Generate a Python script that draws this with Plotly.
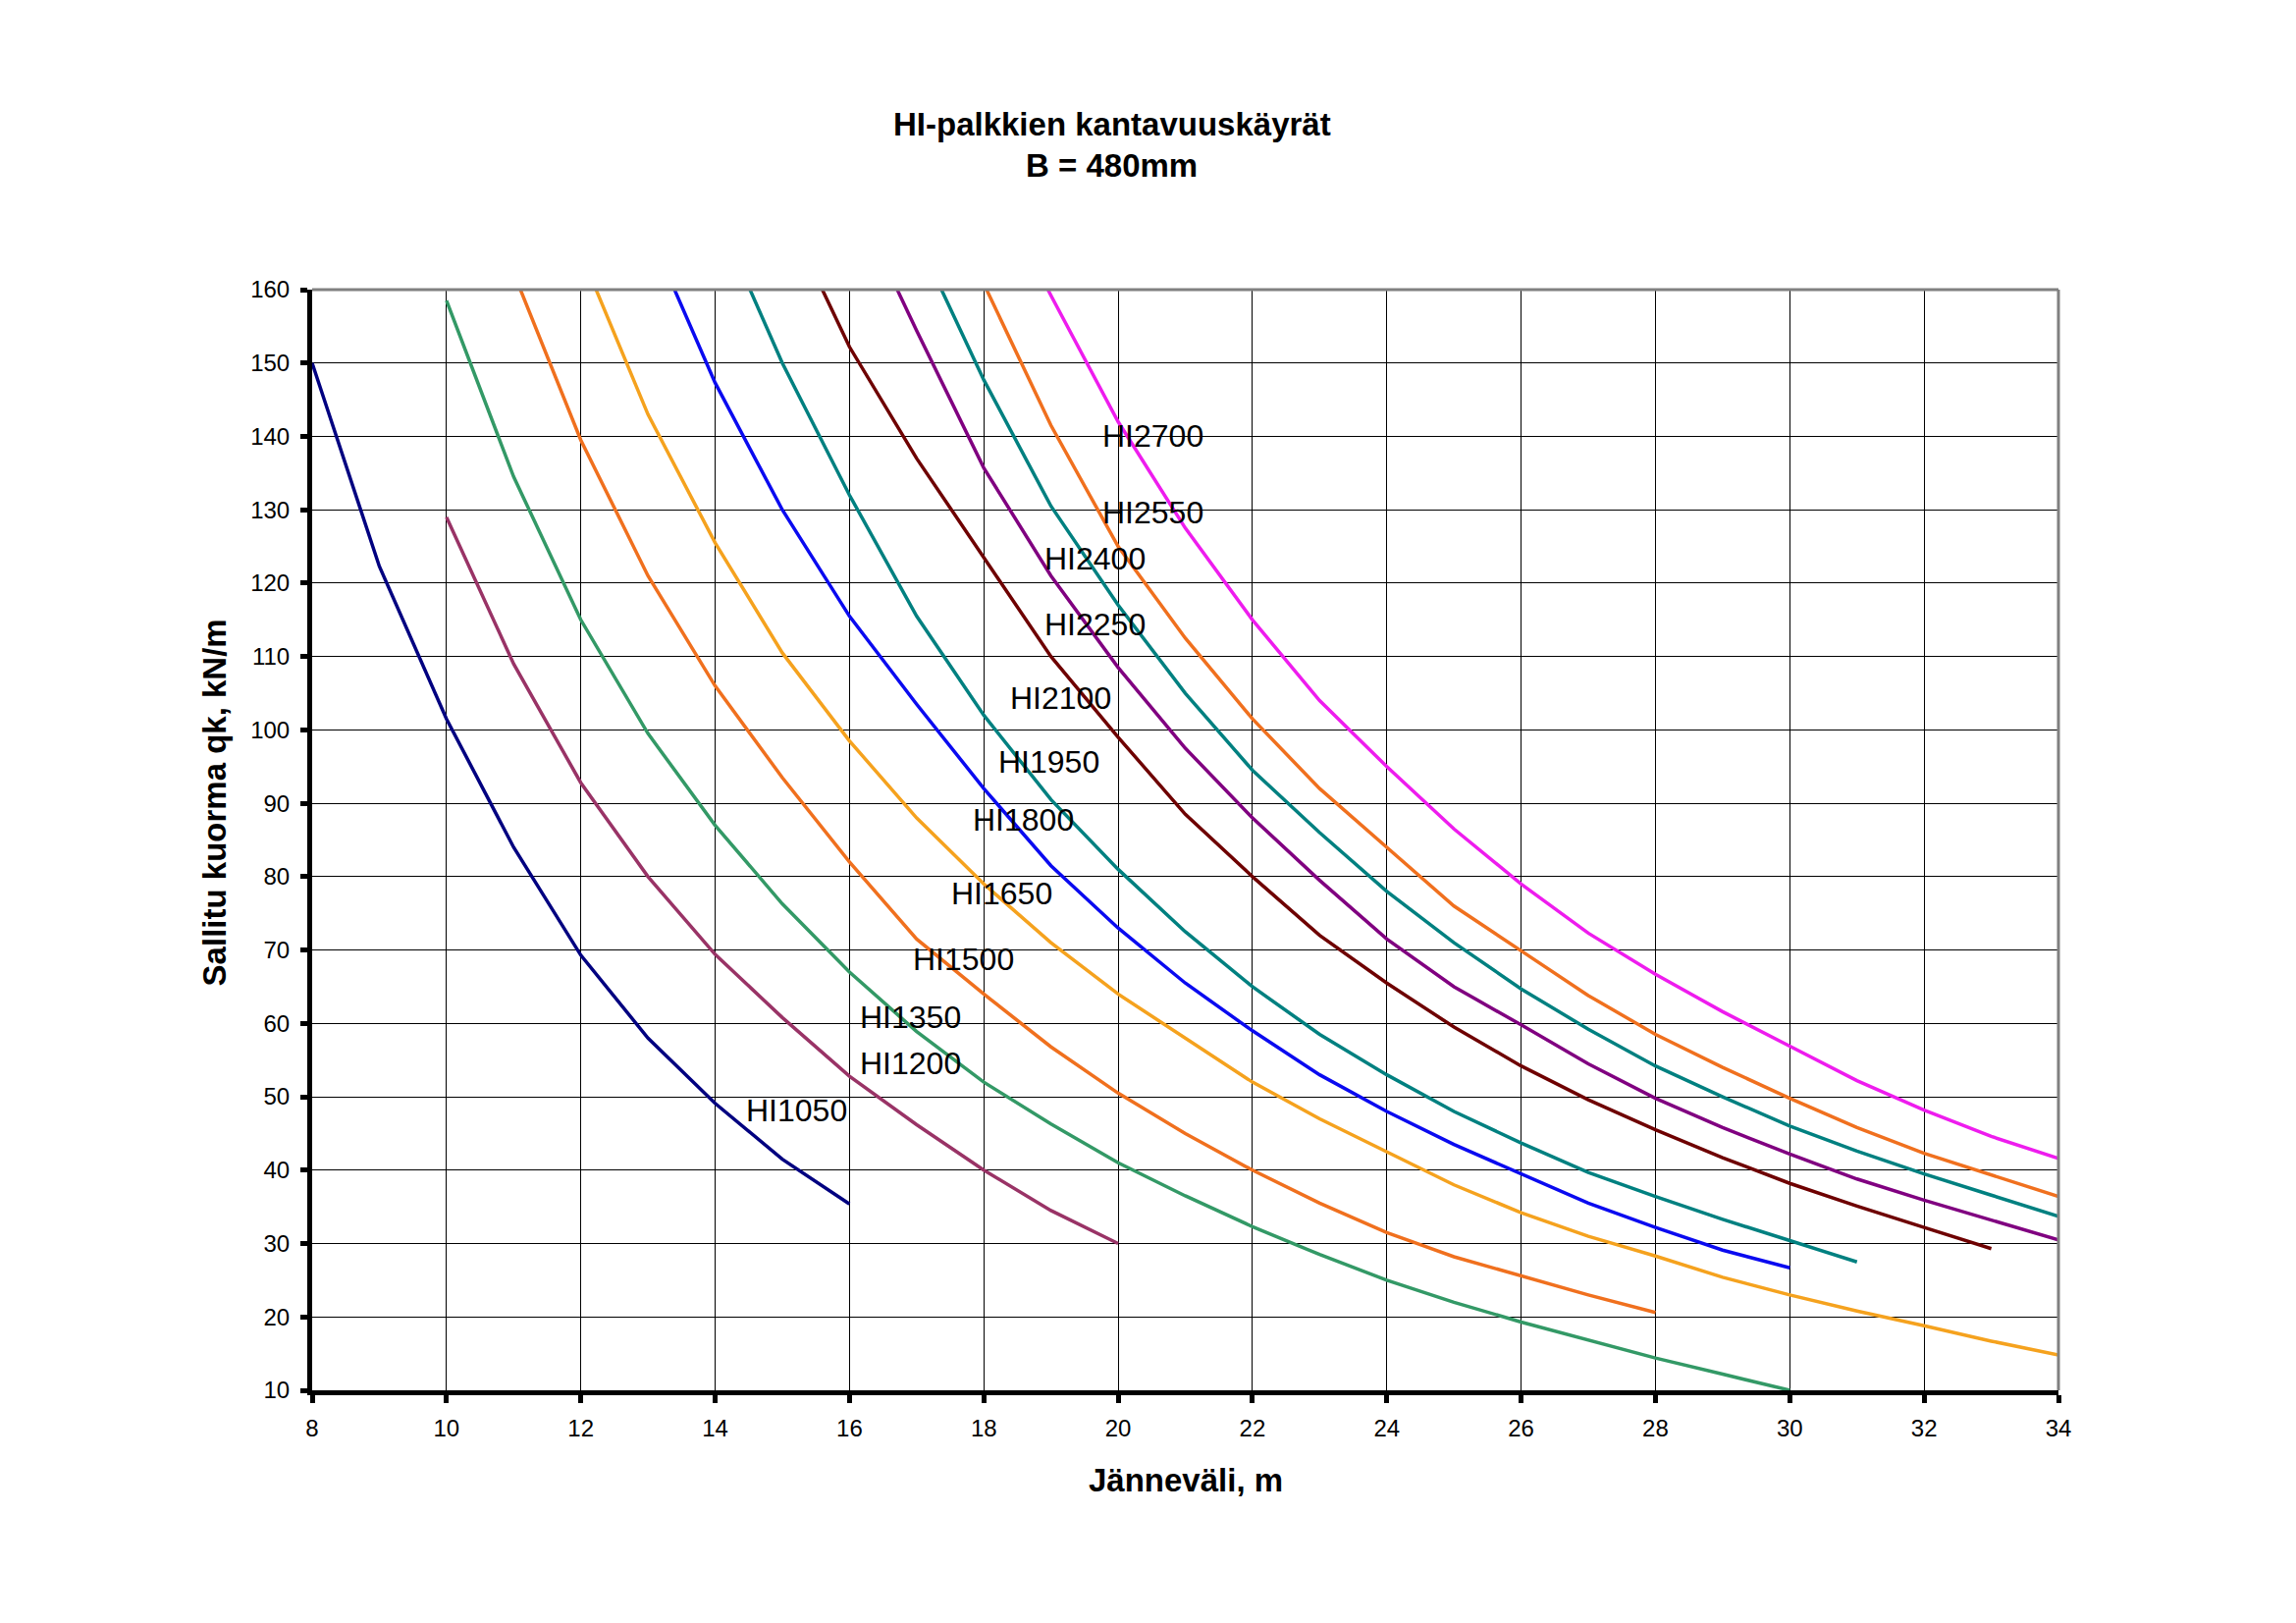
import plotly.graph_objects as go

# ---- data ----
names = ["HI1050", "HI1200", "HI1350", "HI1500", "HI1650", "HI1800",
         "HI1950", "HI2100", "HI2250", "HI2400", "HI2550", "HI2700"]

x_start = [8, 10, 10, 11, 12, 13, 14, 15, 16, 17, 18, 18]

hi1050 = [150, 122.3, 101.5, 84, 69.3, 58, 49.1, 41.5, 35.4]
hi1200 = [129, 109, 92.8, 80, 69.4, 60.8, 52.8, 46.2, 40, 34.5, 30]
hi1350 = [158.5, 134.5, 115, 99.5, 87, 76.3, 67, 58.9, 52, 46.3, 41, 36.5,
          32.3, 28.5, 25, 22, 19.3, 16.9, 14.4, 12.2, 10]
hi1500 = [162.3, 139.5, 121, 106, 93.5, 82, 71.5, 64, 56.8, 50.5, 45, 40,
          35.5, 31.5, 28.2, 25.6, 23, 20.6]
hi1650 = [165, 143, 125.5, 110.5, 98.5, 88, 79, 71, 64, 58, 52, 47, 42.5,
          38, 34.2, 31, 28.3, 25.4, 23, 20.8, 18.8, 16.7, 14.8]
hi1800 = [168.3, 147.3, 130, 115.5, 103.5, 92, 81.5, 73, 65.5, 59, 53, 48,
          43.5, 39.5, 35.5, 32.2, 29.1, 26.7]
hi1950 = [170.8, 150, 132, 115.5, 102, 90.5, 81, 72.5, 65, 58.5, 53, 48,
          43.7, 39.7, 36.4, 33.3, 30.4, 27.5]
hi2100 = [171.5, 152.2, 137, 123.5, 110, 99, 88.5, 80, 72, 65.5, 59.5, 54.2,
          49.6, 45.5, 41.7, 38.2, 35.1, 32.2, 29.3]
hi2250 = [173.8, 154.4, 135.7, 121, 108.5, 97.5, 88, 79.5, 71.5, 65, 59.8,
          54.5, 49.8, 45.8, 42.2, 38.8, 35.9, 33.2, 30.5]
hi2400 = [167.2, 147.7, 130.5, 117, 105, 94.5, 86, 78, 71, 64.7, 59.2, 54.2,
          50, 46, 42.6, 39.5, 36.6, 33.7]
hi2550 = [160.8, 141.5, 125, 112.5, 101.5, 92, 84, 76, 69.9, 63.8, 58.5, 54,
          49.8, 45.8, 42.3, 39.3, 36.4]
hi2700 = [177, 159.2, 142, 127.5, 115, 104, 95, 86.5, 79, 72.3, 66.7, 61.6,
          56.9, 52.2, 48.2, 44.6, 41.6]

series = [hi1050, hi1200, hi1350, hi1500, hi1650, hi1800,
          hi1950, hi2100, hi2250, hi2400, hi2550, hi2700]

# label anchor positions (data coordinates)
label_x = [15.21, 16.91, 16.91, 17.70, 18.27, 18.59, 18.97, 19.15, 19.65, 19.65, 20.52, 20.52]
label_y = [48.2, 54.6, 60.8, 68.7, 77.7, 87.7, 95.7, 104.4, 114.4, 123.3, 129.6, 140.1]

x_ticks = list(range(8, 35, 2))
y_ticks = list(range(10, 161, 10))

# ---- style ----
colors = ["#000080", "#993366", "#339966", "#F0701E", "#F5A21E", "#0A0AF0",
          "#008080", "#6E0000", "#800080", "#008080", "#F0701E", "#EE1CEE"]
FONT = "Arial, 'Liberation Sans', Helvetica, sans-serif"

fig = go.Figure()
for name, ys, x0, col in zip(names, series, x_start, colors):
    xs = list(range(x0, x0 + len(ys)))
    fig.add_trace(go.Scatter(x=xs, y=ys, mode="lines", name=name,
                             line=dict(color=col, width=3.5), showlegend=False))

for name, lx, ly in zip(names, label_x, label_y):
    fig.add_annotation(x=lx, y=ly, xref="x", yref="y", text=name, showarrow=False,
                       font=dict(family=FONT, size=32, color="black"),
                       xanchor="center", yanchor="middle")

# titles
fig.add_annotation(x=0.458, y=1.1499, xref="paper", yref="paper",
                   text="<b>HI-palkkien kantavuuskäyrät</b>", showarrow=False,
                   font=dict(family=FONT, size=33, color="black"),
                   xanchor="center", yanchor="middle")
fig.add_annotation(x=0.458, y=1.1124, xref="paper", yref="paper",
                   text="<b>B = 480mm</b>", showarrow=False,
                   font=dict(family=FONT, size=33, color="black"),
                   xanchor="center", yanchor="middle")
fig.add_annotation(x=0.5, y=-0.0812, xref="paper", yref="paper",
                   text="<b>Jänneväli, m</b>", showarrow=False,
                   font=dict(family=FONT, size=33, color="black"),
                   xanchor="center", yanchor="middle")
fig.add_annotation(x=-0.0562, y=0.534, xref="paper", yref="paper",
                   text="<b>Sallitu kuorma qk, kN/m</b>", showarrow=False, textangle=-90,
                   font=dict(family=FONT, size=33, color="black"),
                   xanchor="center", yanchor="middle")

# gray top/right frame
fig.add_shape(type="line", xref="paper", yref="paper", x0=0, x1=1, y0=1, y1=1,
              line=dict(color="#808080", width=3), layer="above")
fig.add_shape(type="line", xref="paper", yref="paper", x0=1, x1=1, y0=0, y1=1,
              line=dict(color="#808080", width=3), layer="above")

fig.update_xaxes(range=[8, 34], tickvals=x_ticks, ticktext=[str(v) for v in x_ticks],
                 showgrid=True, gridcolor="black", gridwidth=1, zeroline=False,
                 showline=True, linecolor="black", linewidth=5,
                 ticks="outside", ticklen=8, tickwidth=5, tickcolor="black",
                 ticklabelstandoff=5,
                 tickfont=dict(family=FONT, size=24, color="black"))
fig.update_yaxes(range=[10, 160], tickvals=y_ticks, ticktext=[str(v) for v in y_ticks],
                 showgrid=True, gridcolor="black", gridwidth=1, zeroline=False,
                 showline=True, linecolor="black", linewidth=5,
                 ticks="outside", ticklen=7, tickwidth=5, tickcolor="black",
                 ticklabelstandoff=6,
                 tickfont=dict(family=FONT, size=24, color="black"))

fig.update_layout(width=2339, height=1653,
                  margin=dict(l=318, r=242, t=295, b=237),
                  paper_bgcolor="white", plot_bgcolor="white",
                  showlegend=False)

fig.write_html("out.html")
